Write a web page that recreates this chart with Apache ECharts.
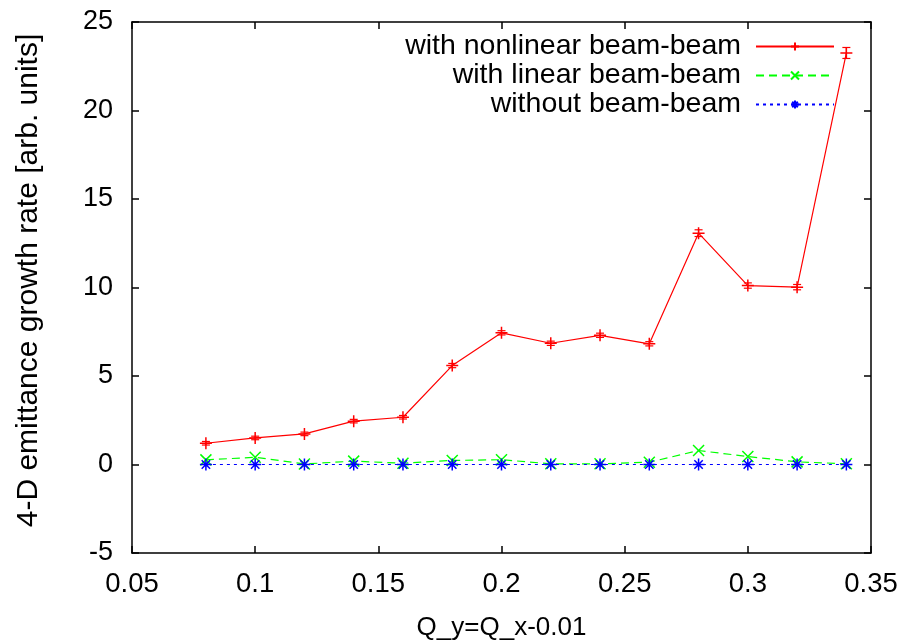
<!DOCTYPE html>
<html>
<head>
<meta charset="utf-8">
<script src="https://cdn.jsdelivr.net/npm/echarts@6/dist/echarts.min.js"></script>
<style>
html,body{margin:0;padding:0;background:#fff;}
#chart{width:907px;height:641px;}
</style>
</head>
<body>
<div id="chart"></div>
<script>
const qValues = [0.08, 0.10, 0.12, 0.14, 0.16, 0.18, 0.20, 0.22, 0.24, 0.26, 0.28, 0.30, 0.32, 0.34];
const nonlinear = [1.20, 1.50, 1.73, 2.45, 2.67, 5.59, 7.44, 6.85, 7.30, 6.82, 13.07, 10.11, 10.02, 23.25];
const nonlinearErr = [0.10, 0.10, 0.10, 0.10, 0.10, 0.12, 0.12, 0.12, 0.12, 0.12, 0.19, 0.15, 0.15, 0.31];
const linear = [0.26, 0.41, 0.03, 0.19, 0.07, 0.23, 0.27, 0.04, 0.04, 0.13, 0.79, 0.45, 0.15, 0.04];
const without = [0, 0, 0, 0, 0, 0, 0, 0, 0, 0, 0, 0, 0, 0];
const seriesNames = ['with nonlinear beam-beam', 'with linear beam-beam', 'without beam-beam'];
const xTitle = 'Q_y=Q_x-0.01';
const yTitle = '4-D emittance growth rate [arb. units]';

const FONT = 'Liberation Sans';
const plusPath = 'path://M5,0L5,10M0,5L10,5';
const crossPath = 'path://M0,0L10,10M10,0L0,10';
const starPath = 'path://M5,0L5,10M0,5L10,5M1.5,1.5L8.5,8.5M8.5,1.5L1.5,8.5';

const pairs = (ys) => qValues.map((x, i) => [x, ys[i]]);

const chart = echarts.init(document.getElementById('chart'), null, {renderer: 'canvas'});

const axisCommon = {
  axisLine: {show: true, onZero: false, lineStyle: {color: '#000', width: 1.5}},
  axisTick: {show: true, inside: true, length: 7, lineStyle: {color: '#000', width: 1.5}},
  splitLine: {show: false}
};

chart.setOption({
  animation: false,
  backgroundColor: '#fff',
  grid: {left: 132, top: 22, right: 36, bottom: 88, containLabel: false, outerBoundsMode: 'none'},
  legend: {
    orient: 'vertical',
    right: 67,
    top: 27,
    align: 'right',
    itemWidth: 78,
    itemHeight: 10,
    itemGap: 0,
    data: seriesNames,
    textStyle: {fontFamily: FONT, fontSize: 28.5, color: '#000', padding: [0, 10, 0, 0], lineHeight: 25}
  },
  xAxis: [
    Object.assign({
      type: 'value', min: 0.05, max: 0.35, interval: 0.05, position: 'bottom',
      name: xTitle, nameLocation: 'middle', nameGap: 62,
      nameTextStyle: {fontFamily: FONT, fontSize: 26, color: '#000'},
      axisLabel: {fontFamily: FONT, fontSize: 27.5, color: '#000', margin: 17,
        formatter: (v) => String(+v.toFixed(2))}
    }, axisCommon),
    Object.assign({
      type: 'value', min: 0.05, max: 0.35, interval: 0.05, position: 'top',
      axisLabel: {show: false}
    }, axisCommon)
  ],
  yAxis: [
    Object.assign({
      type: 'value', min: -5, max: 25, interval: 5, position: 'left',
      name: yTitle, nameLocation: 'middle', nameGap: 88,
      nameTextStyle: {fontFamily: FONT, fontSize: 30, color: '#000', padding: [0, 0, 0, 14]},
      axisLabel: {fontFamily: FONT, fontSize: 27, color: '#000', margin: 19}
    }, axisCommon),
    Object.assign({
      type: 'value', min: -5, max: 25, interval: 5, position: 'right',
      axisLabel: {show: false}
    }, axisCommon)
  ],
  series: [
    {
      name: seriesNames[0], type: 'line', data: pairs(nonlinear),
      symbol: plusPath, symbolSize: 12, showAllSymbol: true,
      lineStyle: {color: '#ff0000', width: 1.2, type: 'solid'},
      itemStyle: {color: '#ff0000', borderColor: '#ff0000', borderWidth: 1.5},
      z: 3
    },
    {
      name: seriesNames[0] + ' err', type: 'custom',
      data: qValues.map((x, i) => [x, nonlinear[i], nonlinearErr[i]]),
      renderItem: function (params, api) {
        const x = api.value(0), y = api.value(1), e = api.value(2);
        const top = api.coord([x, y + e]);
        const bot = api.coord([x, y - e]);
        const hw = 4;
        const st = {stroke: '#ff0000', lineWidth: 1.2};
        return {type: 'group', children: [
          {type: 'line', shape: {x1: top[0], y1: top[1], x2: bot[0], y2: bot[1]}, style: st},
          {type: 'line', shape: {x1: top[0] - hw, y1: top[1], x2: top[0] + hw, y2: top[1]}, style: st},
          {type: 'line', shape: {x1: bot[0] - hw, y1: bot[1], x2: bot[0] + hw, y2: bot[1]}, style: st}
        ]};
      },
      z: 3, silent: true
    },
    {
      name: seriesNames[1], type: 'line', data: pairs(linear),
      symbol: crossPath, symbolSize: 11, showAllSymbol: true,
      lineStyle: {color: '#00ff00', width: 1.2, type: [8, 5]},
      itemStyle: {color: '#00ff00', borderColor: '#00ff00', borderWidth: 1.5},
      z: 2
    },
    {
      name: seriesNames[2], type: 'line', data: pairs(without),
      symbol: starPath, symbolSize: 12, showAllSymbol: true,
      lineStyle: {color: '#0000ff', width: 1.2, type: [3, 4]},
      itemStyle: {color: '#0000ff', borderColor: '#0000ff', borderWidth: 1.5},
      z: 4
    }
  ]
});
</script>
</body>
</html>
